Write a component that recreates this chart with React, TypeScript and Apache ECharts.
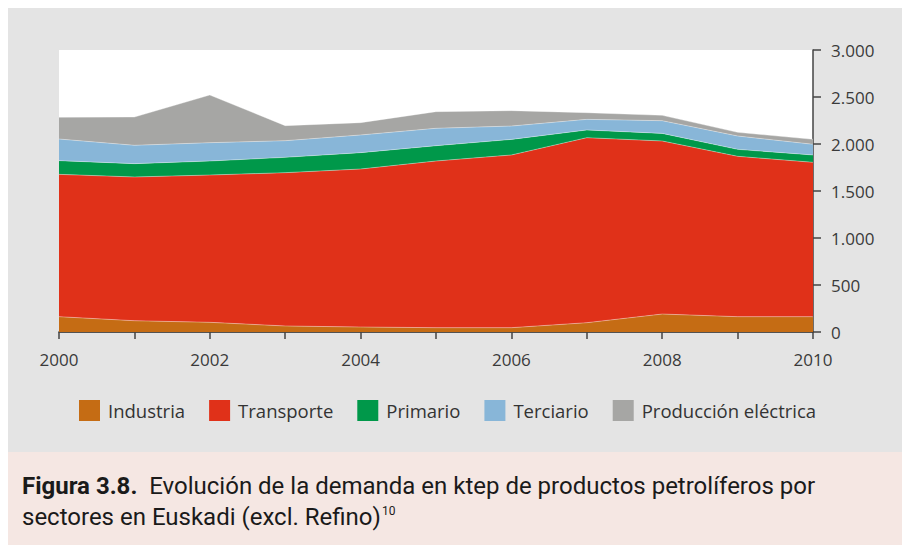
import React, { useEffect, useRef } from "react";
import * as echarts from "echarts";

const years = ["2000", "2001", "2002", "2003", "2004", "2005", "2006", "2007", "2008", "2009", "2010"];
const industria = [163, 120, 103, 64, 53, 46, 46, 99, 191, 163, 163];
const transporte = [1514, 1529, 1567, 1631, 1681, 1773, 1837, 1968, 1841, 1706, 1642];
const primario = [146, 142, 149, 163, 174, 163, 166, 82, 81, 74, 78];
const terciario = [230, 195, 195, 177, 188, 185, 142, 113, 135, 142, 114];
const produccion = [231, 301, 507, 160, 131, 177, 164, 71, 57, 39, 53];
const yTicks = [0, 500, 1000, 1500, 2000, 2500, 3000];

const seriesDefs = [
  { name: "Industria", data: industria, color: "#C56C14" },
  { name: "Transporte", data: transporte, color: "#E03119" },
  { name: "Primario", data: primario, color: "#00984A" },
  { name: "Terciario", data: terciario, color: "#88B6D8" },
  { name: "Producción eléctrica", data: produccion, color: "#A6A6A4" },
];

function fmt(v: number) {
  return String(v).replace(/\B(?=(\d{3})+(?!\d))/g, ".");
}

export default function App() {
  const ref = useRef<HTMLDivElement>(null);
  useEffect(() => {
    if (!ref.current) return;
    const chart = echarts.init(ref.current, null, { renderer: "svg" });
    const font = "'Open Sans', 'Noto Sans', sans-serif";
    chart.setOption({
      animation: false,
      backgroundColor: "#ffffff",
      textStyle: { fontFamily: font },
      graphic: [
        { type: "rect", z: -10, silent: true, shape: { x: 8, y: 8, width: 894, height: 444 }, style: { fill: "#E4E4E4" } },
        { type: "rect", z: -10, silent: true, shape: { x: 8, y: 452, width: 894, height: 93 }, style: { fill: "#F5E7E3" } },
        {
          type: "text",
          x: 22,
          y: 474,
          style: {
            text: "{b|Figura 3.8.}  Evolución de la demanda en ktep de productos petrolíferos por",
            font: "24px Roboto",
            fill: "#1a1a1a",
            rich: { b: { fontWeight: "bold", fontSize: 24, fontFamily: "Roboto", fill: "#1a1a1a" } },
          },
        },
        {
          type: "text",
          x: 22,
          y: 505,
          style: {
            text: "sectores en Euskadi (excl. Refino){s|10}",
            font: "24px Roboto",
            fill: "#1a1a1a",
            rich: { s: { fontSize: 12, fontFamily: "Roboto", fill: "#1a1a1a", verticalAlign: "top", padding: [0, 0, 12, 1] } },
          },
        },
      ],
      grid: {
        left: 59,
        right: 89,
        top: 50,
        bottom: 213,
        show: true,
        backgroundColor: "#ffffff",
        borderWidth: 0,
      },
      legend: {
        left: 74,
        top: 395,
        itemWidth: 21,
        itemHeight: 21,
        itemGap: 24,
        icon: "rect",
        data: seriesDefs.map((s) => s.name),
        textStyle: { fontSize: 18.5, color: "#333", fontFamily: font, padding: [0, 0, 0, 3] },
      },
      xAxis: {
        type: "category",
        data: years,
        boundaryGap: false,
        axisLine: { lineStyle: { color: "#222", width: 1.5 } },
        axisTick: { interval: 0, length: 7, lineStyle: { color: "#444", width: 1.5 } },
        axisLabel: { interval: 1, fontSize: 17, color: "#3a3a3a", margin: 19, fontFamily: font },
        splitLine: { show: false },
      },
      yAxis: {
        type: "value",
        position: "right",
        min: 0,
        max: 3000,
        interval: 500,
        axisLine: { show: true, lineStyle: { color: "#444", width: 1.5 } },
        axisTick: { show: true, length: 8, lineStyle: { color: "#444", width: 1.5 } },
        axisLabel: {
          fontSize: 17,
          color: "#3a3a3a",
          margin: 18,
          fontFamily: font,
          formatter: (v: number) => (yTicks.includes(v) ? fmt(v) : ""),
        },
        splitLine: { show: false },
      },
      series: seriesDefs.map((s) => ({
        name: s.name,
        type: "line",
        stack: "total",
        data: s.data,
        symbol: "none",
        color: s.color,
        lineStyle: { width: 1, color: "rgba(255,255,255,0.35)" },
        areaStyle: { color: s.color, opacity: 1 },
        emphasis: { disabled: true },
      })),
    });
    return () => chart.dispose();
  }, []);
  return <div ref={ref} style={{ position: "absolute", left: 0, top: 0, width: 902, height: 545 }} />;
}
